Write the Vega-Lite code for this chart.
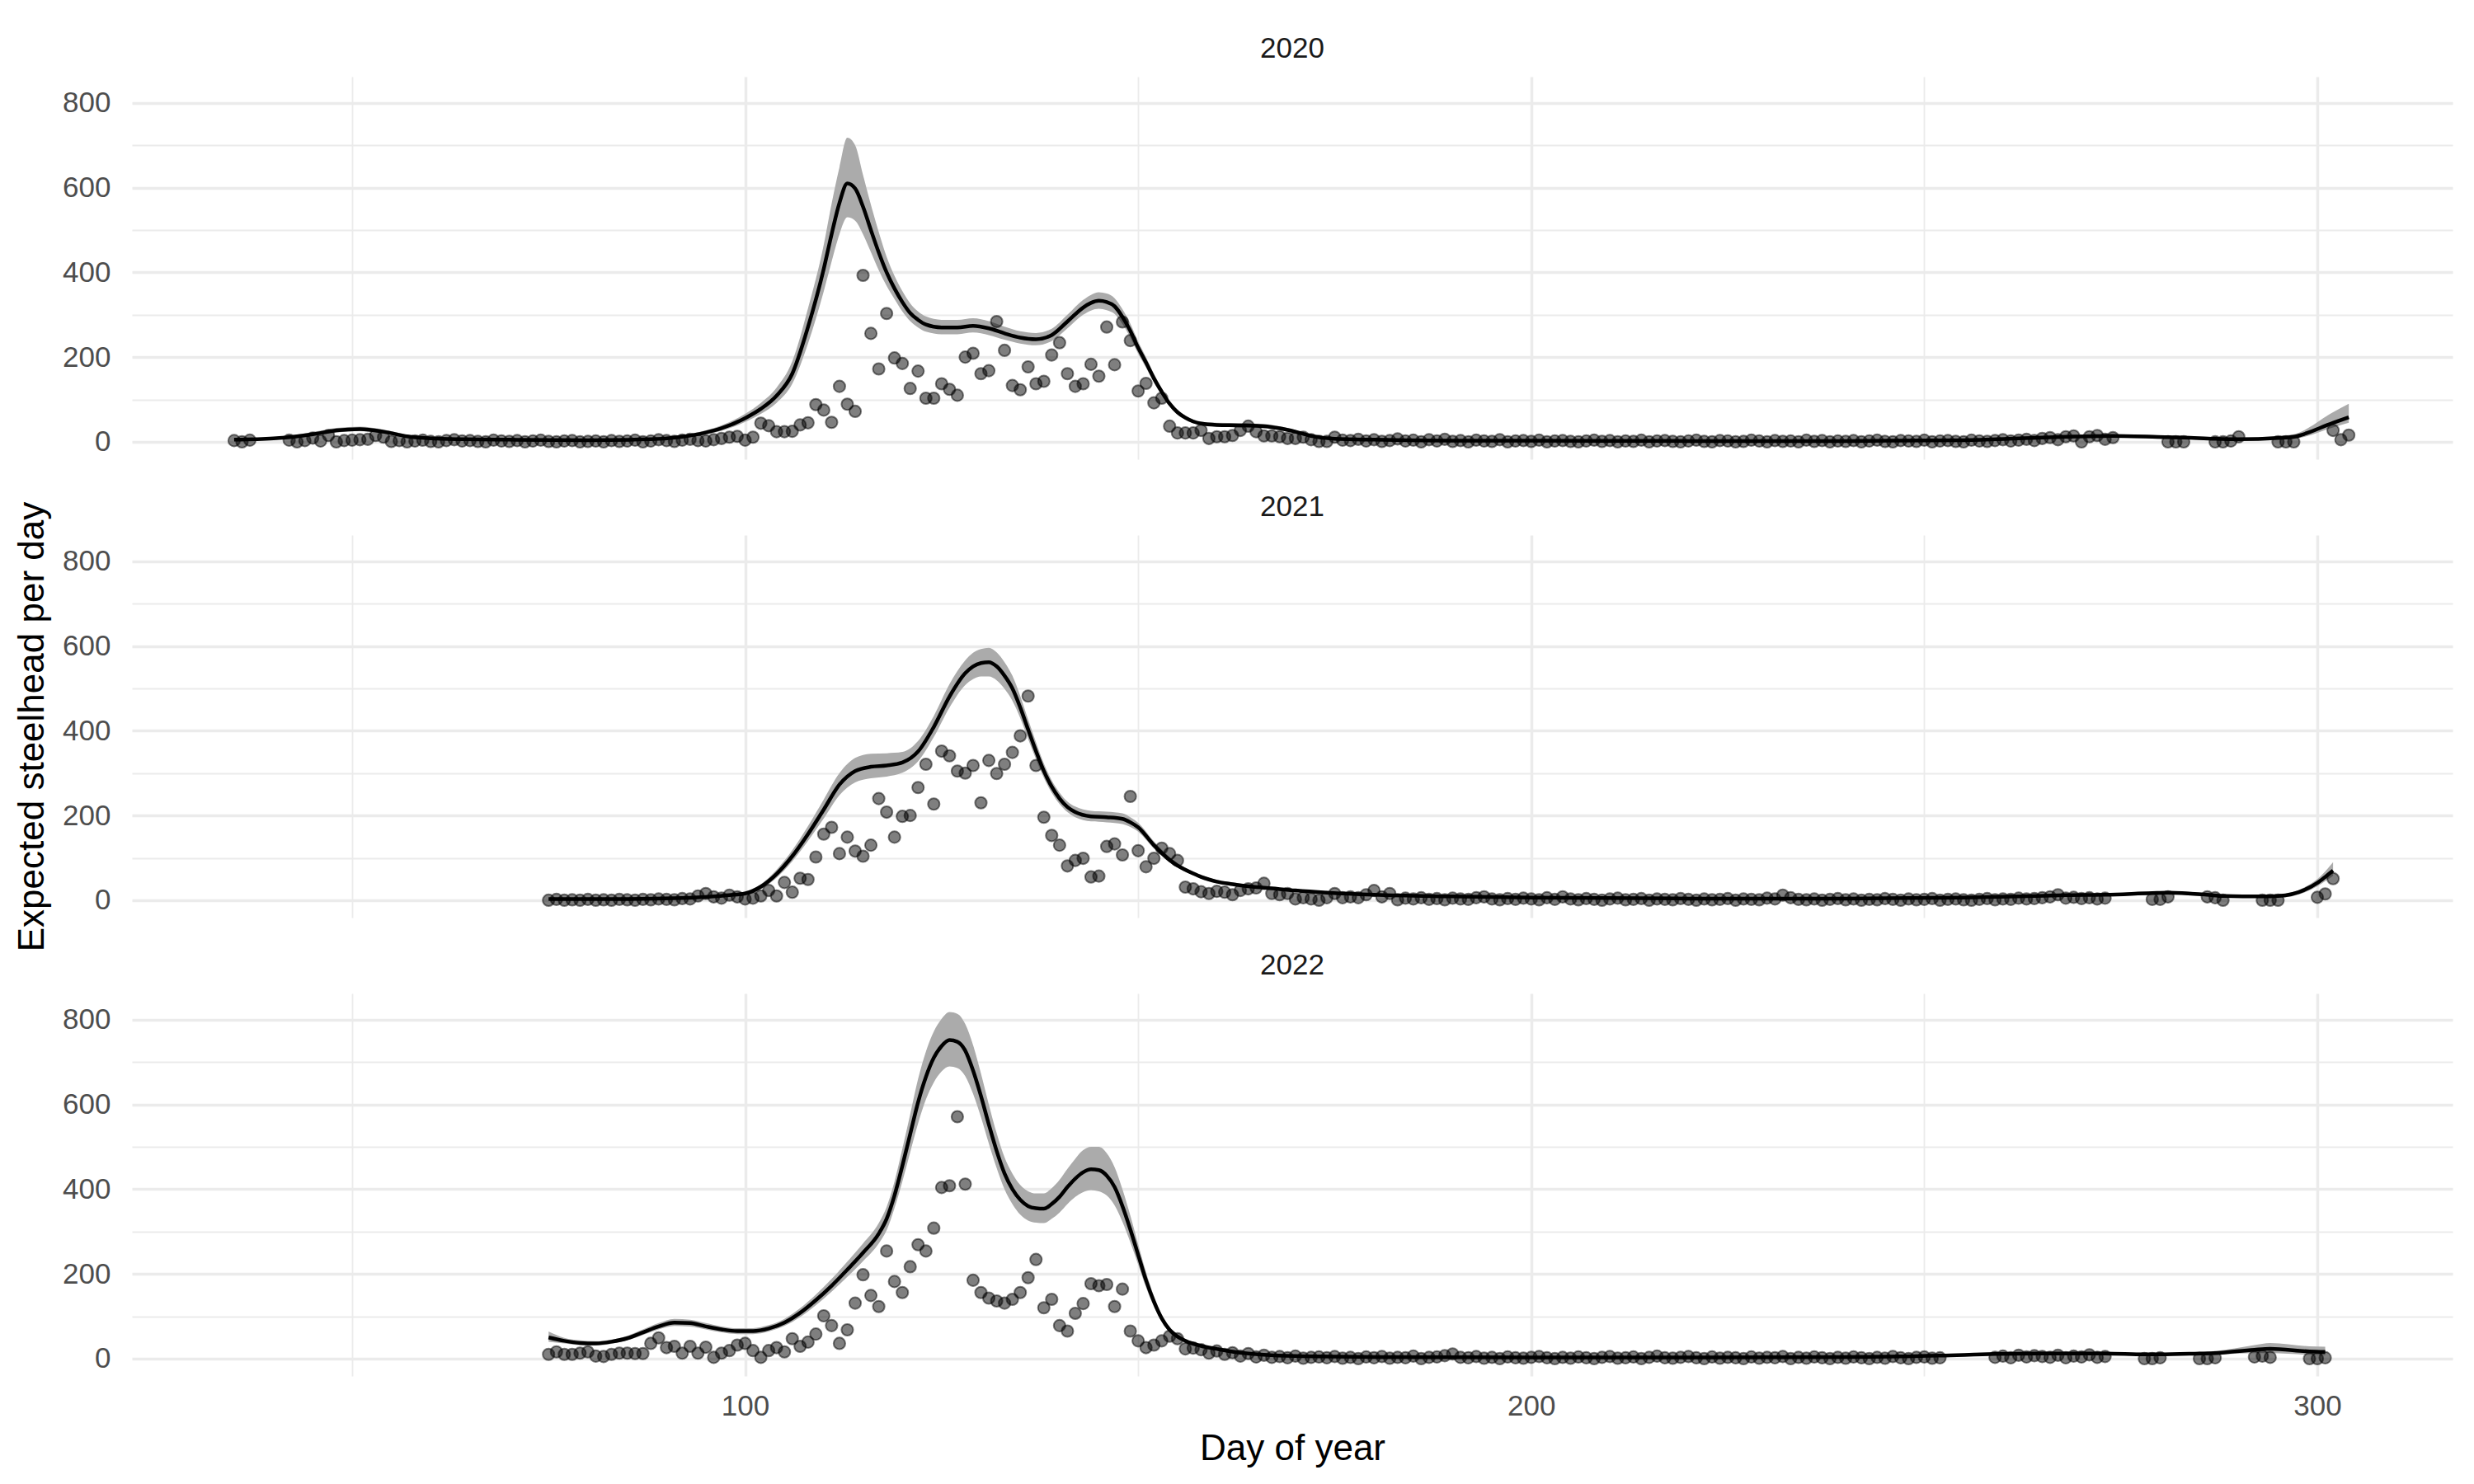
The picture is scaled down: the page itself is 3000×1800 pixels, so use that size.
{
"$schema":"https://vega.github.io/schema/vega-lite/v6.json",
"background":"white",
"padding":{"left":17,"top":42,"right":25,"bottom":20},
"config":{"font":"Liberation Sans","view":{"stroke":null}},
"bounds":"flush",
"spacing":92,
"datasets":{
"p2020":[{"day":35,"n":3},{"day":36,"n":0},{"day":37,"n":4},{"day":42,"n":4},{"day":43,"n":0},{"day":44,"n":3},{"day":45,"n":9},{"day":46,"n":2},{"day":47,"n":15},{"day":48,"n":0},{"day":49,"n":3},{"day":50,"n":4},{"day":51,"n":5},{"day":52,"n":6},{"day":53,"n":15},{"day":54,"n":11},{"day":55,"n":1},{"day":56,"n":3},{"day":57,"n":0},{"day":58,"n":2},{"day":59,"n":4},{"day":60,"n":1},{"day":61,"n":0},{"day":62,"n":3},{"day":63,"n":5},{"day":64,"n":2},{"day":65,"n":3},{"day":66,"n":1},{"day":67,"n":0},{"day":68,"n":4},{"day":69,"n":2},{"day":70,"n":1},{"day":71,"n":3},{"day":72,"n":0},{"day":73,"n":2},{"day":74,"n":4},{"day":75,"n":1},{"day":76,"n":0},{"day":77,"n":2},{"day":78,"n":3},{"day":79,"n":0},{"day":80,"n":1},{"day":81,"n":2},{"day":82,"n":0},{"day":83,"n":3},{"day":84,"n":1},{"day":85,"n":2},{"day":86,"n":4},{"day":87,"n":0},{"day":88,"n":2},{"day":89,"n":5},{"day":90,"n":3},{"day":91,"n":1},{"day":92,"n":4},{"day":93,"n":6},{"day":94,"n":3},{"day":95,"n":2},{"day":96,"n":5},{"day":97,"n":8},{"day":98,"n":11},{"day":99,"n":13},{"day":100,"n":4},{"day":101,"n":11},{"day":102,"n":44},{"day":103,"n":38},{"day":104,"n":24},{"day":105,"n":24},{"day":106,"n":25},{"day":107,"n":40},{"day":108,"n":45},{"day":109,"n":88},{"day":110,"n":75},{"day":111,"n":46},{"day":112,"n":131},{"day":113,"n":89},{"day":114,"n":72},{"day":115,"n":393},{"day":116,"n":256},{"day":117,"n":172},{"day":118,"n":303},{"day":119,"n":198},{"day":120,"n":185},{"day":121,"n":126},{"day":122,"n":167},{"day":123,"n":103},{"day":124,"n":103},{"day":125,"n":137},{"day":126,"n":124},{"day":127,"n":110},{"day":128,"n":200},{"day":129,"n":209},{"day":130,"n":161},{"day":131,"n":168},{"day":132,"n":284},{"day":133,"n":216},{"day":134,"n":133},{"day":135,"n":123},{"day":136,"n":177},{"day":137,"n":137},{"day":138,"n":143},{"day":139,"n":205},{"day":140,"n":234},{"day":141,"n":161},{"day":142,"n":131},{"day":143,"n":137},{"day":144,"n":183},{"day":145,"n":155},{"day":146,"n":271},{"day":147,"n":182},{"day":148,"n":283},{"day":149,"n":239},{"day":150,"n":120},{"day":151,"n":138},{"day":152,"n":92},{"day":153,"n":103},{"day":154,"n":37},{"day":155,"n":21},{"day":156,"n":21},{"day":157,"n":21},{"day":158,"n":27},{"day":159,"n":8},{"day":160,"n":12},{"day":161,"n":12},{"day":162,"n":15},{"day":163,"n":27},{"day":164,"n":37},{"day":165,"n":24},{"day":166,"n":14},{"day":167,"n":14},{"day":168,"n":12},{"day":169,"n":8},{"day":170,"n":8},{"day":171,"n":11},{"day":172,"n":5},{"day":173,"n":1},{"day":174,"n":1},{"day":175,"n":11},{"day":176,"n":4},{"day":177,"n":3},{"day":178,"n":6},{"day":179,"n":2},{"day":180,"n":5},{"day":181,"n":1},{"day":182,"n":3},{"day":183,"n":7},{"day":184,"n":2},{"day":185,"n":4},{"day":186,"n":0},{"day":187,"n":5},{"day":188,"n":2},{"day":189,"n":6},{"day":190,"n":1},{"day":191,"n":3},{"day":192,"n":0},{"day":193,"n":4},{"day":194,"n":2},{"day":195,"n":1},{"day":196,"n":5},{"day":197,"n":0},{"day":198,"n":2},{"day":199,"n":3},{"day":200,"n":1},{"day":201,"n":4},{"day":202,"n":0},{"day":203,"n":2},{"day":204,"n":3},{"day":205,"n":1},{"day":206,"n":0},{"day":207,"n":2},{"day":208,"n":4},{"day":209,"n":1},{"day":210,"n":3},{"day":211,"n":0},{"day":212,"n":2},{"day":213,"n":1},{"day":214,"n":4},{"day":215,"n":0},{"day":216,"n":2},{"day":217,"n":3},{"day":218,"n":1},{"day":219,"n":0},{"day":220,"n":2},{"day":221,"n":4},{"day":222,"n":1},{"day":223,"n":0},{"day":224,"n":3},{"day":225,"n":2},{"day":226,"n":0},{"day":227,"n":1},{"day":228,"n":4},{"day":229,"n":2},{"day":230,"n":0},{"day":231,"n":3},{"day":232,"n":1},{"day":233,"n":2},{"day":234,"n":0},{"day":235,"n":4},{"day":236,"n":1},{"day":237,"n":3},{"day":238,"n":0},{"day":239,"n":2},{"day":240,"n":1},{"day":241,"n":3},{"day":242,"n":0},{"day":243,"n":2},{"day":244,"n":4},{"day":245,"n":1},{"day":246,"n":0},{"day":247,"n":3},{"day":248,"n":2},{"day":249,"n":1},{"day":250,"n":4},{"day":251,"n":0},{"day":252,"n":2},{"day":253,"n":3},{"day":254,"n":1},{"day":255,"n":0},{"day":256,"n":4},{"day":257,"n":2},{"day":258,"n":1},{"day":259,"n":3},{"day":260,"n":5},{"day":261,"n":2},{"day":262,"n":4},{"day":263,"n":6},{"day":264,"n":3},{"day":265,"n":8},{"day":266,"n":10},{"day":267,"n":5},{"day":268,"n":12},{"day":269,"n":14},{"day":270,"n":0},{"day":271,"n":12},{"day":272,"n":15},{"day":273,"n":6},{"day":274,"n":10},{"day":281,"n":0},{"day":282,"n":0},{"day":283,"n":0},{"day":287,"n":0},{"day":288,"n":0},{"day":289,"n":2},{"day":290,"n":12},{"day":295,"n":0},{"day":296,"n":0},{"day":297,"n":0},{"day":302,"n":27},{"day":303,"n":5},{"day":304,"n":16}],
"f2020":[{"day":35,"fit":5,"lo":3,"hi":8},{"day":40,"fit":8,"lo":5,"hi":11},{"day":45,"fit":18,"lo":14,"hi":23},{"day":48,"fit":27,"lo":22,"hi":33},{"day":51,"fit":30,"lo":25,"hi":36},{"day":54,"fit":24,"lo":20,"hi":29},{"day":57,"fit":13,"lo":10,"hi":17},{"day":60,"fit":8,"lo":6,"hi":11},{"day":64,"fit":6,"lo":4,"hi":8},{"day":70,"fit":5,"lo":3,"hi":7},{"day":80,"fit":4,"lo":2,"hi":6},{"day":88,"fit":6,"lo":4,"hi":9},{"day":92,"fit":12,"lo":9,"hi":16},{"day":95,"fit":22,"lo":17,"hi":27},{"day":97,"fit":32,"lo":26,"hi":39},{"day":100,"fit":56,"lo":47,"hi":66},{"day":102,"fit":78,"lo":66,"hi":92},{"day":104,"fit":109,"lo":92,"hi":128},{"day":106,"fit":161,"lo":137,"hi":190},{"day":108,"fit":271,"lo":232,"hi":315},{"day":110,"fit":408,"lo":355,"hi":465},{"day":111,"fit":490,"lo":425,"hi":562},{"day":112,"fit":564,"lo":490,"hi":648},{"day":113,"fit":610,"lo":530,"hi":718},{"day":114,"fit":598,"lo":522,"hi":700},{"day":115,"fit":555,"lo":490,"hi":630},{"day":116,"fit":500,"lo":448,"hi":560},{"day":117,"fit":447,"lo":405,"hi":495},{"day":118,"fit":400,"lo":368,"hi":437},{"day":119,"fit":362,"lo":337,"hi":392},{"day":120,"fit":330,"lo":308,"hi":356},{"day":121,"fit":304,"lo":285,"hi":327},{"day":122,"fit":288,"lo":270,"hi":308},{"day":123,"fit":277,"lo":260,"hi":296},{"day":125,"fit":270,"lo":254,"hi":288},{"day":127,"fit":270,"lo":254,"hi":288},{"day":129,"fit":274,"lo":258,"hi":292},{"day":131,"fit":268,"lo":252,"hi":285},{"day":133,"fit":256,"lo":241,"hi":272},{"day":135,"fit":246,"lo":232,"hi":261},{"day":137,"fit":242,"lo":228,"hi":257},{"day":139,"fit":252,"lo":238,"hi":267},{"day":141,"fit":284,"lo":268,"hi":300},{"day":143,"fit":317,"lo":300,"hi":335},{"day":144,"fit":328,"lo":310,"hi":347},{"day":145,"fit":333,"lo":314,"hi":353},{"day":146,"fit":330,"lo":311,"hi":350},{"day":147,"fit":320,"lo":302,"hi":339},{"day":148,"fit":295,"lo":278,"hi":313},{"day":149,"fit":262,"lo":246,"hi":279},{"day":150,"fit":222,"lo":208,"hi":237},{"day":151,"fit":187,"lo":175,"hi":200},{"day":152,"fit":150,"lo":140,"hi":161},{"day":153,"fit":118,"lo":110,"hi":127},{"day":154,"fit":90,"lo":83,"hi":97},{"day":155,"fit":70,"lo":64,"hi":76},{"day":156,"fit":57,"lo":52,"hi":62},{"day":157,"fit":48,"lo":44,"hi":53},{"day":158,"fit":43,"lo":39,"hi":48},{"day":160,"fit":40,"lo":36,"hi":45},{"day":163,"fit":39,"lo":34,"hi":44},{"day":166,"fit":37,"lo":32,"hi":42},{"day":168,"fit":32,"lo":28,"hi":37},{"day":170,"fit":24,"lo":20,"hi":28},{"day":172,"fit":14,"lo":11,"hi":17},{"day":175,"fit":7,"lo":5,"hi":9},{"day":180,"fit":5,"lo":3,"hi":7},{"day":190,"fit":3,"lo":2,"hi":5},{"day":200,"fit":3,"lo":2,"hi":4},{"day":220,"fit":2,"lo":1,"hi":3},{"day":240,"fit":2,"lo":1,"hi":4},{"day":255,"fit":4,"lo":2,"hi":6},{"day":262,"fit":8,"lo":5,"hi":11},{"day":268,"fit":12,"lo":9,"hi":16},{"day":274,"fit":14,"lo":10,"hi":18},{"day":281,"fit":11,"lo":7,"hi":15},{"day":283,"fit":10,"lo":6,"hi":14},{"day":287,"fit":7,"lo":4,"hi":11},{"day":290,"fit":6,"lo":3,"hi":10},{"day":295,"fit":9,"lo":5,"hi":14},{"day":297,"fit":12,"lo":7,"hi":18},{"day":302,"fit":45,"lo":34,"hi":70},{"day":304,"fit":58,"lo":45,"hi":90}],
"p2021":[{"day":75,"n":0},{"day":76,"n":2},{"day":77,"n":0},{"day":78,"n":1},{"day":79,"n":0},{"day":80,"n":2},{"day":81,"n":0},{"day":82,"n":1},{"day":83,"n":0},{"day":84,"n":2},{"day":85,"n":1},{"day":86,"n":0},{"day":87,"n":2},{"day":88,"n":1},{"day":89,"n":3},{"day":90,"n":2},{"day":91,"n":1},{"day":92,"n":4},{"day":93,"n":3},{"day":94,"n":10},{"day":95,"n":16},{"day":96,"n":8},{"day":97,"n":5},{"day":98,"n":12},{"day":99,"n":8},{"day":100,"n":3},{"day":101,"n":5},{"day":102,"n":10},{"day":103,"n":23},{"day":104,"n":10},{"day":105,"n":42},{"day":106,"n":19},{"day":107,"n":52},{"day":108,"n":49},{"day":109,"n":102},{"day":110,"n":156},{"day":111,"n":172},{"day":112,"n":110},{"day":113,"n":149},{"day":114,"n":116},{"day":115,"n":104},{"day":116,"n":130},{"day":117,"n":240},{"day":118,"n":208},{"day":119,"n":149},{"day":120,"n":198},{"day":121,"n":200},{"day":122,"n":266},{"day":123,"n":321},{"day":124,"n":227},{"day":125,"n":352},{"day":126,"n":341},{"day":127,"n":305},{"day":128,"n":300},{"day":129,"n":318},{"day":130,"n":230},{"day":131,"n":330},{"day":132,"n":299},{"day":133,"n":321},{"day":134,"n":349},{"day":135,"n":388},{"day":136,"n":482},{"day":137,"n":318},{"day":138,"n":196},{"day":139,"n":153},{"day":140,"n":130},{"day":141,"n":81},{"day":142,"n":94},{"day":143,"n":99},{"day":144,"n":55},{"day":145,"n":57},{"day":146,"n":127},{"day":147,"n":133},{"day":148,"n":107},{"day":149,"n":245},{"day":150,"n":117},{"day":151,"n":79},{"day":152,"n":99},{"day":153,"n":123},{"day":154,"n":110},{"day":155,"n":94},{"day":156,"n":31},{"day":157,"n":27},{"day":158,"n":20},{"day":159,"n":16},{"day":160,"n":21},{"day":161,"n":19},{"day":162,"n":13},{"day":163,"n":23},{"day":164,"n":27},{"day":165,"n":29},{"day":166,"n":40},{"day":167,"n":16},{"day":168,"n":13},{"day":169,"n":16},{"day":170,"n":3},{"day":171,"n":6},{"day":172,"n":3},{"day":173,"n":0},{"day":174,"n":6},{"day":175,"n":16},{"day":176,"n":6},{"day":177,"n":8},{"day":178,"n":6},{"day":179,"n":13},{"day":180,"n":23},{"day":181,"n":8},{"day":182,"n":16},{"day":183,"n":1},{"day":184,"n":5},{"day":185,"n":3},{"day":186,"n":6},{"day":187,"n":2},{"day":188,"n":4},{"day":189,"n":1},{"day":190,"n":5},{"day":191,"n":3},{"day":192,"n":2},{"day":193,"n":6},{"day":194,"n":8},{"day":195,"n":3},{"day":196,"n":1},{"day":197,"n":4},{"day":198,"n":2},{"day":199,"n":5},{"day":200,"n":3},{"day":201,"n":1},{"day":202,"n":6},{"day":203,"n":2},{"day":204,"n":8},{"day":205,"n":3},{"day":206,"n":1},{"day":207,"n":4},{"day":208,"n":2},{"day":209,"n":0},{"day":210,"n":3},{"day":211,"n":5},{"day":212,"n":1},{"day":213,"n":2},{"day":214,"n":4},{"day":215,"n":0},{"day":216,"n":3},{"day":217,"n":2},{"day":218,"n":1},{"day":219,"n":4},{"day":220,"n":2},{"day":221,"n":0},{"day":222,"n":3},{"day":223,"n":1},{"day":224,"n":2},{"day":225,"n":4},{"day":226,"n":0},{"day":227,"n":3},{"day":228,"n":2},{"day":229,"n":1},{"day":230,"n":5},{"day":231,"n":3},{"day":232,"n":12},{"day":233,"n":6},{"day":234,"n":2},{"day":235,"n":1},{"day":236,"n":3},{"day":237,"n":0},{"day":238,"n":2},{"day":239,"n":4},{"day":240,"n":1},{"day":241,"n":3},{"day":242,"n":0},{"day":243,"n":2},{"day":244,"n":1},{"day":245,"n":4},{"day":246,"n":2},{"day":247,"n":0},{"day":248,"n":3},{"day":249,"n":1},{"day":250,"n":2},{"day":251,"n":4},{"day":252,"n":0},{"day":253,"n":2},{"day":254,"n":3},{"day":255,"n":1},{"day":256,"n":0},{"day":257,"n":2},{"day":258,"n":4},{"day":259,"n":1},{"day":260,"n":3},{"day":261,"n":2},{"day":262,"n":5},{"day":263,"n":3},{"day":264,"n":4},{"day":265,"n":6},{"day":266,"n":8},{"day":267,"n":13},{"day":268,"n":5},{"day":269,"n":7},{"day":270,"n":4},{"day":271,"n":6},{"day":272,"n":3},{"day":273,"n":5},{"day":279,"n":2},{"day":280,"n":2},{"day":281,"n":8},{"day":286,"n":8},{"day":287,"n":6},{"day":288,"n":0},{"day":293,"n":0},{"day":294,"n":0},{"day":295,"n":0},{"day":300,"n":7},{"day":301,"n":15},{"day":302,"n":51}],
"f2021":[{"day":75,"fit":3,"lo":1,"hi":5},{"day":85,"fit":3,"lo":1,"hi":5},{"day":92,"fit":5,"lo":3,"hi":7},{"day":96,"fit":9,"lo":6,"hi":12},{"day":98,"fit":12,"lo":9,"hi":16},{"day":100,"fit":16,"lo":12,"hi":21},{"day":102,"fit":32,"lo":26,"hi":38},{"day":104,"fit":62,"lo":53,"hi":72},{"day":106,"fit":104,"lo":92,"hi":118},{"day":108,"fit":156,"lo":140,"hi":175},{"day":110,"fit":214,"lo":193,"hi":238},{"day":112,"fit":273,"lo":248,"hi":300},{"day":114,"fit":305,"lo":278,"hi":336},{"day":116,"fit":315,"lo":288,"hi":346},{"day":118,"fit":318,"lo":292,"hi":347},{"day":120,"fit":325,"lo":301,"hi":350},{"day":122,"fit":351,"lo":328,"hi":376},{"day":124,"fit":409,"lo":385,"hi":435},{"day":126,"fit":481,"lo":455,"hi":510},{"day":128,"fit":536,"lo":508,"hi":566},{"day":129,"fit":552,"lo":522,"hi":584},{"day":130,"fit":560,"lo":528,"hi":593},{"day":131,"fit":562,"lo":528,"hi":596},{"day":132,"fit":552,"lo":519,"hi":585},{"day":133,"fit":530,"lo":499,"hi":562},{"day":134,"fit":500,"lo":471,"hi":530},{"day":135,"fit":455,"lo":430,"hi":482},{"day":136,"fit":403,"lo":381,"hi":427},{"day":137,"fit":352,"lo":333,"hi":373},{"day":138,"fit":305,"lo":289,"hi":323},{"day":139,"fit":268,"lo":254,"hi":283},{"day":140,"fit":240,"lo":227,"hi":254},{"day":141,"fit":220,"lo":208,"hi":233},{"day":142,"fit":208,"lo":196,"hi":221},{"day":144,"fit":198,"lo":186,"hi":211},{"day":146,"fit":196,"lo":184,"hi":209},{"day":148,"fit":192,"lo":180,"hi":205},{"day":149,"fit":184,"lo":173,"hi":196},{"day":150,"fit":172,"lo":162,"hi":183},{"day":152,"fit":130,"lo":122,"hi":139},{"day":154,"fit":95,"lo":89,"hi":102},{"day":155,"fit":82,"lo":77,"hi":88},{"day":156,"fit":72,"lo":67,"hi":77},{"day":157,"fit":63,"lo":59,"hi":68},{"day":158,"fit":55,"lo":51,"hi":60},{"day":159,"fit":49,"lo":45,"hi":53},{"day":160,"fit":44,"lo":40,"hi":48},{"day":162,"fit":38,"lo":35,"hi":42},{"day":164,"fit":33,"lo":30,"hi":37},{"day":167,"fit":28,"lo":25,"hi":31},{"day":170,"fit":23,"lo":20,"hi":26},{"day":174,"fit":18,"lo":15,"hi":21},{"day":180,"fit":13,"lo":11,"hi":16},{"day":190,"fit":9,"lo":7,"hi":11},{"day":200,"fit":6,"lo":4,"hi":8},{"day":220,"fit":4,"lo":2,"hi":6},{"day":240,"fit":4,"lo":2,"hi":6},{"day":255,"fit":6,"lo":4,"hi":8},{"day":262,"fit":9,"lo":7,"hi":12},{"day":268,"fit":12,"lo":9,"hi":15},{"day":273,"fit":13,"lo":10,"hi":16},{"day":279,"fit":17,"lo":13,"hi":21},{"day":281,"fit":18,"lo":14,"hi":22},{"day":286,"fit":13,"lo":9,"hi":17},{"day":288,"fit":10,"lo":7,"hi":14},{"day":293,"fit":9,"lo":6,"hi":13},{"day":295,"fit":10,"lo":6,"hi":14},{"day":300,"fit":41,"lo":33,"hi":50},{"day":301,"fit":55,"lo":45,"hi":68},{"day":302,"fit":70,"lo":58,"hi":90}],
"p2022":[{"day":75,"n":10},{"day":76,"n":16},{"day":77,"n":10},{"day":78,"n":10},{"day":79,"n":13},{"day":80,"n":16},{"day":81,"n":6},{"day":82,"n":5},{"day":83,"n":10},{"day":84,"n":13},{"day":85,"n":13},{"day":86,"n":12},{"day":87,"n":12},{"day":88,"n":36},{"day":89,"n":49},{"day":90,"n":26},{"day":91,"n":29},{"day":92,"n":13},{"day":93,"n":29},{"day":94,"n":13},{"day":95,"n":27},{"day":96,"n":3},{"day":97,"n":13},{"day":98,"n":19},{"day":99,"n":32},{"day":100,"n":36},{"day":101,"n":19},{"day":102,"n":3},{"day":103,"n":19},{"day":104,"n":26},{"day":105,"n":16},{"day":106,"n":47},{"day":107,"n":29},{"day":108,"n":39},{"day":109,"n":58},{"day":110,"n":101},{"day":111,"n":78},{"day":112,"n":36},{"day":113,"n":68},{"day":114,"n":131},{"day":115,"n":198},{"day":116,"n":149},{"day":117,"n":123},{"day":118,"n":254},{"day":119,"n":182},{"day":120,"n":156},{"day":121,"n":217},{"day":122,"n":269},{"day":123,"n":254},{"day":124,"n":308},{"day":125,"n":404},{"day":126,"n":408},{"day":127,"n":571},{"day":128,"n":412},{"day":129,"n":185},{"day":130,"n":156},{"day":131,"n":143},{"day":132,"n":136},{"day":133,"n":131},{"day":134,"n":140},{"day":135,"n":156},{"day":136,"n":191},{"day":137,"n":234},{"day":138,"n":120},{"day":139,"n":140},{"day":140,"n":78},{"day":141,"n":65},{"day":142,"n":107},{"day":143,"n":130},{"day":144,"n":177},{"day":145,"n":172},{"day":146,"n":175},{"day":147,"n":123},{"day":148,"n":164},{"day":149,"n":65},{"day":150,"n":42},{"day":151,"n":26},{"day":152,"n":32},{"day":153,"n":42},{"day":154,"n":53},{"day":155,"n":47},{"day":156,"n":23},{"day":157,"n":25},{"day":158,"n":21},{"day":159,"n":13},{"day":160,"n":18},{"day":161,"n":10},{"day":162,"n":14},{"day":163,"n":6},{"day":164,"n":12},{"day":165,"n":4},{"day":166,"n":8},{"day":167,"n":3},{"day":168,"n":5},{"day":169,"n":2},{"day":170,"n":6},{"day":171,"n":1},{"day":172,"n":3},{"day":173,"n":4},{"day":174,"n":2},{"day":175,"n":5},{"day":176,"n":1},{"day":177,"n":3},{"day":178,"n":0},{"day":179,"n":4},{"day":180,"n":2},{"day":181,"n":5},{"day":182,"n":1},{"day":183,"n":3},{"day":184,"n":2},{"day":185,"n":6},{"day":186,"n":0},{"day":187,"n":3},{"day":188,"n":4},{"day":189,"n":7},{"day":190,"n":11},{"day":191,"n":3},{"day":192,"n":2},{"day":193,"n":5},{"day":194,"n":1},{"day":195,"n":3},{"day":196,"n":0},{"day":197,"n":4},{"day":198,"n":2},{"day":199,"n":1},{"day":200,"n":3},{"day":201,"n":5},{"day":202,"n":2},{"day":203,"n":0},{"day":204,"n":3},{"day":205,"n":1},{"day":206,"n":4},{"day":207,"n":2},{"day":208,"n":0},{"day":209,"n":3},{"day":210,"n":5},{"day":211,"n":1},{"day":212,"n":2},{"day":213,"n":4},{"day":214,"n":0},{"day":215,"n":3},{"day":216,"n":6},{"day":217,"n":2},{"day":218,"n":1},{"day":219,"n":3},{"day":220,"n":5},{"day":221,"n":2},{"day":222,"n":0},{"day":223,"n":4},{"day":224,"n":1},{"day":225,"n":3},{"day":226,"n":2},{"day":227,"n":0},{"day":228,"n":4},{"day":229,"n":1},{"day":230,"n":3},{"day":231,"n":2},{"day":232,"n":5},{"day":233,"n":0},{"day":234,"n":3},{"day":235,"n":1},{"day":236,"n":4},{"day":237,"n":2},{"day":238,"n":0},{"day":239,"n":3},{"day":240,"n":1},{"day":241,"n":4},{"day":242,"n":2},{"day":243,"n":0},{"day":244,"n":3},{"day":245,"n":1},{"day":246,"n":5},{"day":247,"n":2},{"day":248,"n":0},{"day":249,"n":3},{"day":250,"n":4},{"day":251,"n":1},{"day":252,"n":2},{"day":259,"n":3},{"day":260,"n":6},{"day":261,"n":2},{"day":262,"n":8},{"day":263,"n":4},{"day":264,"n":7},{"day":265,"n":5},{"day":266,"n":3},{"day":267,"n":8},{"day":268,"n":2},{"day":269,"n":6},{"day":270,"n":4},{"day":271,"n":9},{"day":272,"n":3},{"day":273,"n":5},{"day":278,"n":0},{"day":279,"n":0},{"day":280,"n":2},{"day":285,"n":0},{"day":286,"n":0},{"day":287,"n":2},{"day":292,"n":4},{"day":293,"n":6},{"day":294,"n":3},{"day":299,"n":0},{"day":300,"n":0},{"day":301,"n":2}],
"f2022":[{"day":75,"fit":50,"lo":40,"hi":64},{"day":77,"fit":42,"lo":36,"hi":49},{"day":79,"fit":37,"lo":32,"hi":43},{"day":81,"fit":36,"lo":31,"hi":41},{"day":83,"fit":40,"lo":35,"hi":45},{"day":85,"fit":48,"lo":43,"hi":54},{"day":87,"fit":62,"lo":56,"hi":69},{"day":89,"fit":76,"lo":69,"hi":84},{"day":91,"fit":85,"lo":77,"hi":94},{"day":93,"fit":84,"lo":76,"hi":92},{"day":95,"fit":76,"lo":69,"hi":84},{"day":97,"fit":69,"lo":62,"hi":76},{"day":99,"fit":65,"lo":58,"hi":72},{"day":101,"fit":65,"lo":58,"hi":72},{"day":103,"fit":71,"lo":64,"hi":79},{"day":105,"fit":85,"lo":77,"hi":94},{"day":107,"fit":108,"lo":98,"hi":119},{"day":109,"fit":138,"lo":126,"hi":151},{"day":111,"fit":172,"lo":158,"hi":188},{"day":113,"fit":210,"lo":193,"hi":229},{"day":115,"fit":250,"lo":230,"hi":272},{"day":117,"fit":295,"lo":272,"hi":320},{"day":118,"fit":330,"lo":303,"hi":358},{"day":119,"fit":385,"lo":355,"hi":418},{"day":120,"fit":455,"lo":418,"hi":495},{"day":121,"fit":530,"lo":487,"hi":577},{"day":122,"fit":605,"lo":555,"hi":660},{"day":123,"fit":665,"lo":612,"hi":725},{"day":124,"fit":710,"lo":652,"hi":772},{"day":125,"fit":738,"lo":678,"hi":802},{"day":126,"fit":752,"lo":690,"hi":818},{"day":127,"fit":748,"lo":686,"hi":814},{"day":128,"fit":727,"lo":667,"hi":790},{"day":129,"fit":680,"lo":625,"hi":740},{"day":130,"fit":620,"lo":570,"hi":673},{"day":131,"fit":553,"lo":508,"hi":600},{"day":132,"fit":490,"lo":450,"hi":532},{"day":133,"fit":437,"lo":400,"hi":475},{"day":134,"fit":400,"lo":365,"hi":437},{"day":135,"fit":375,"lo":340,"hi":410},{"day":136,"fit":360,"lo":326,"hi":395},{"day":137,"fit":355,"lo":321,"hi":390},{"day":138,"fit":354,"lo":320,"hi":390},{"day":139,"fit":365,"lo":330,"hi":402},{"day":140,"fit":382,"lo":345,"hi":422},{"day":141,"fit":405,"lo":365,"hi":448},{"day":142,"fit":425,"lo":382,"hi":472},{"day":143,"fit":440,"lo":393,"hi":492},{"day":144,"fit":447,"lo":398,"hi":500},{"day":145,"fit":445,"lo":395,"hi":500},{"day":146,"fit":432,"lo":385,"hi":485},{"day":147,"fit":405,"lo":362,"hi":452},{"day":148,"fit":360,"lo":323,"hi":400},{"day":149,"fit":305,"lo":275,"hi":338},{"day":150,"fit":245,"lo":222,"hi":270},{"day":151,"fit":185,"lo":168,"hi":204},{"day":152,"fit":135,"lo":123,"hi":148},{"day":153,"fit":95,"lo":87,"hi":104},{"day":154,"fit":68,"lo":62,"hi":75},{"day":155,"fit":52,"lo":47,"hi":57},{"day":156,"fit":42,"lo":38,"hi":46},{"day":158,"fit":30,"lo":27,"hi":33},{"day":160,"fit":23,"lo":20,"hi":26},{"day":163,"fit":14,"lo":12,"hi":17},{"day":166,"fit":9,"lo":7,"hi":11},{"day":170,"fit":6,"lo":4,"hi":8},{"day":180,"fit":4,"lo":3,"hi":6},{"day":200,"fit":3,"lo":2,"hi":5},{"day":220,"fit":3,"lo":2,"hi":5},{"day":240,"fit":4,"lo":2,"hi":6},{"day":252,"fit":7,"lo":4,"hi":10},{"day":259,"fit":11,"lo":8,"hi":15},{"day":265,"fit":12,"lo":9,"hi":16},{"day":273,"fit":12,"lo":8,"hi":16},{"day":278,"fit":10,"lo":7,"hi":14},{"day":280,"fit":10,"lo":7,"hi":14},{"day":285,"fit":12,"lo":8,"hi":16},{"day":287,"fit":13,"lo":9,"hi":18},{"day":292,"fit":21,"lo":13,"hi":32},{"day":294,"fit":23,"lo":13,"hi":37},{"day":299,"fit":17,"lo":9,"hi":29},{"day":301,"fit":16,"lo":8,"hi":28}]
},
"vconcat":[
{"title":{"text":"2020","fontSize":35,"fontWeight":"normal","color":"#1A1A1A","offset":-12,"baseline":"alphabetic","anchor":"middle","frame":"group"},
"width":2814,"height":464,
"layer":[
{"data":{"name":"f2020"},"mark":{"type":"area","color":"#ABABAB","opacity":1,"interpolate":"monotone"},
"encoding":{"x":{"field":"day","type":"quantitative","title":null,"scale":{"domain":[22,317.2],"nice":false,"zero":false},"axis":{"values":[50,100,150,200,250,300],"labels":false,"domain":false,"ticks":false,"gridColor":"#EBEBEB","gridWidth":{"condition":{"test":"datum.value % 100 === 0","value":3.5},"value":1.8}}},
"y":{"field":"lo","type":"quantitative","title":null,"scale":{"domain":[-41,862],"nice":false,"zero":false},"axis":{"values":[0,100,200,300,400,500,600,700,800],"labelExpr":"datum.value % 200 === 0 ? datum.label : ''","domain":false,"ticks":false,"labelFontSize":35,"labelColor":"#4D4D4D","labelPadding":26,"labelFlush":false,"labelOverlap":false,"gridColor":"#EBEBEB","gridWidth":{"condition":{"test":"datum.value % 200 === 0","value":3.5},"value":1.8}}},
"y2":{"field":"hi"}}},
{"data":{"name":"p2020"},"mark":{"type":"point","filled":true,"fill":"#000000","fillOpacity":0.5,"stroke":"#000000","strokeOpacity":0.5,"strokeWidth":2,"size":200},
"encoding":{"x":{"field":"day","type":"quantitative","title":null},"y":{"field":"n","type":"quantitative","title":null}}},
{"data":{"name":"f2020"},"mark":{"type":"line","color":"#000000","strokeWidth":4.5,"interpolate":"monotone"},
"encoding":{"x":{"field":"day","type":"quantitative","title":null},"y":{"field":"fit","type":"quantitative","title":null}}}
]},
{"title":{"text":"2021","fontSize":35,"fontWeight":"normal","color":"#1A1A1A","offset":-53,"baseline":"alphabetic","anchor":"middle","frame":"group"},
"width":2814,"height":464,
"layer":[
{"data":{"name":"f2021"},"mark":{"type":"area","color":"#ABABAB","opacity":1,"interpolate":"monotone"},
"encoding":{"x":{"field":"day","type":"quantitative","title":null,"scale":{"domain":[22,317.2],"nice":false,"zero":false},"axis":{"values":[50,100,150,200,250,300],"labels":false,"domain":false,"ticks":false,"gridColor":"#EBEBEB","gridWidth":{"condition":{"test":"datum.value % 100 === 0","value":3.5},"value":1.8}}},
"y":{"field":"lo","type":"quantitative","title":"Expected steelhead per day","scale":{"domain":[-41,862],"nice":false,"zero":false},"axis":{"values":[0,100,200,300,400,500,600,700,800],"labelExpr":"datum.value % 200 === 0 ? datum.label : ''","domain":false,"ticks":false,"labelFontSize":35,"labelColor":"#4D4D4D","labelPadding":26,"labelFlush":false,"labelOverlap":false,"gridColor":"#EBEBEB","gridWidth":{"condition":{"test":"datum.value % 200 === 0","value":3.5},"value":1.8},"titleFontSize":44,"titleFontWeight":"normal","titleColor":"#000000","titlePadding":14}},
"y2":{"field":"hi"}}},
{"data":{"name":"p2021"},"mark":{"type":"point","filled":true,"fill":"#000000","fillOpacity":0.5,"stroke":"#000000","strokeOpacity":0.5,"strokeWidth":2,"size":200},
"encoding":{"x":{"field":"day","type":"quantitative","title":null},"y":{"field":"n","type":"quantitative","title":"Expected steelhead per day"}}},
{"data":{"name":"f2021"},"mark":{"type":"line","color":"#000000","strokeWidth":4.5,"interpolate":"monotone"},
"encoding":{"x":{"field":"day","type":"quantitative","title":null},"y":{"field":"fit","type":"quantitative","title":"Expected steelhead per day"}}}
]},
{"title":{"text":"2022","fontSize":35,"fontWeight":"normal","color":"#1A1A1A","offset":-12,"baseline":"alphabetic","anchor":"middle","frame":"group"},
"width":2814,"height":464,
"layer":[
{"data":{"name":"f2022"},"mark":{"type":"area","color":"#ABABAB","opacity":1,"interpolate":"monotone"},
"encoding":{"x":{"field":"day","type":"quantitative","title":"Day of year","scale":{"domain":[22,317.2],"nice":false,"zero":false},"axis":{"values":[50,100,150,200,250,300],"labelExpr":"datum.value % 100 === 0 ? datum.label : ''","domain":false,"ticks":false,"labelFontSize":35,"labelColor":"#4D4D4D","labelPadding":19,"labelFlush":false,"labelOverlap":false,"gridColor":"#EBEBEB","gridWidth":{"condition":{"test":"datum.value % 100 === 0","value":3.5},"value":1.8},"titleFontSize":44,"titleFontWeight":"normal","titleColor":"#000000","titlePadding":12}},
"y":{"field":"lo","type":"quantitative","title":null,"scale":{"domain":[-41,862],"nice":false,"zero":false},"axis":{"values":[0,100,200,300,400,500,600,700,800],"labelExpr":"datum.value % 200 === 0 ? datum.label : ''","domain":false,"ticks":false,"labelFontSize":35,"labelColor":"#4D4D4D","labelPadding":26,"labelFlush":false,"labelOverlap":false,"gridColor":"#EBEBEB","gridWidth":{"condition":{"test":"datum.value % 200 === 0","value":3.5},"value":1.8}}},
"y2":{"field":"hi"}}},
{"data":{"name":"p2022"},"mark":{"type":"point","filled":true,"fill":"#000000","fillOpacity":0.5,"stroke":"#000000","strokeOpacity":0.5,"strokeWidth":2,"size":200},
"encoding":{"x":{"field":"day","type":"quantitative","title":"Day of year"},"y":{"field":"n","type":"quantitative","title":null}}},
{"data":{"name":"f2022"},"mark":{"type":"line","color":"#000000","strokeWidth":4.5,"interpolate":"monotone"},
"encoding":{"x":{"field":"day","type":"quantitative","title":"Day of year"},"y":{"field":"fit","type":"quantitative","title":null}}}
]}
]
}
